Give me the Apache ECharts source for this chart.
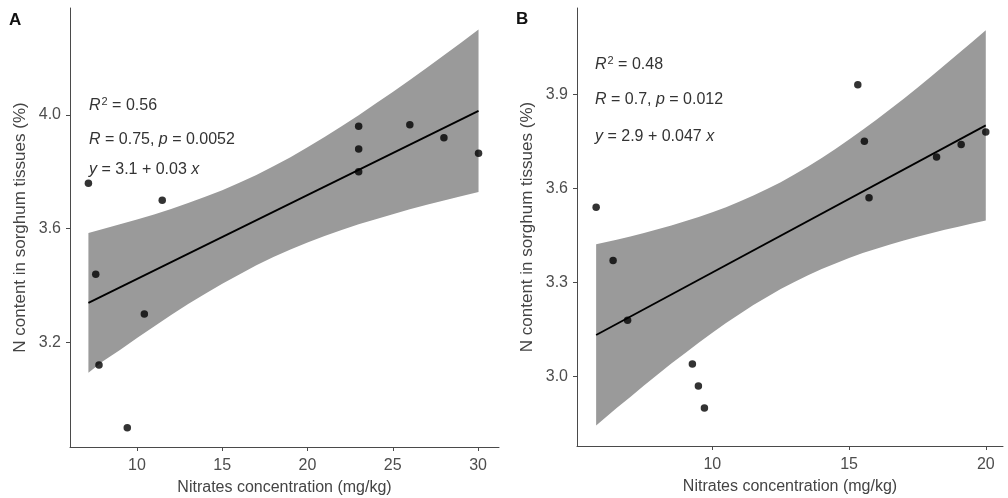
<!DOCTYPE html>
<html><head><meta charset="utf-8">
<script src="https://cdn.jsdelivr.net/npm/echarts@6/dist/echarts.min.js"></script>
<style>html,body{margin:0;padding:0;background:#fff}#c{width:1008px;height:498px}</style>
</head><body><div id="c"></div>
<script>
// ---------- Panel A data ----------
const aNitrate = [7.15, 7.58, 7.77, 9.43, 10.43, 11.48, 23.0, 23.0, 23.0, 26.0, 28.0, 30.03];
const aNcontent = [3.76, 3.44, 3.12, 2.90, 3.30, 3.70, 3.96, 3.88, 3.80, 3.965, 3.92, 3.865];
const aFitX = [7.15, 30.03];
const aFitY = [3.339, 4.014];
const aBandX = [7.15, 8, 9, 10, 11, 12, 13, 14, 15, 16, 17, 18, 19, 20, 21, 22, 23, 24, 25, 26, 27, 28, 29, 30.03];
const aBandUpper = [3.585, 3.599, 3.615, 3.632, 3.650, 3.669, 3.690, 3.712, 3.735, 3.761, 3.789, 3.819, 3.851, 3.886, 3.922, 3.960, 3.999, 4.040, 4.081, 4.123, 4.166, 4.210, 4.254, 4.300];
const aBandLower = [3.093, 3.134, 3.173, 3.215, 3.256, 3.296, 3.335, 3.371, 3.406, 3.439, 3.471, 3.500, 3.527, 3.551, 3.574, 3.595, 3.615, 3.633, 3.651, 3.668, 3.684, 3.699, 3.714, 3.729];
const aXTicks = [10, 15, 20, 25, 30];
const aYTicks = [3.2, 3.6, 4.0];

// ---------- Panel B data ----------
const bNitrate = [5.75, 6.37, 6.9, 9.27, 9.49, 9.71, 15.32, 15.56, 15.73, 18.2, 19.1, 20.0];
const bNcontent = [3.54, 3.37, 3.18, 3.04, 2.97, 2.90, 3.93, 3.75, 3.57, 3.70, 3.74, 3.78];
const bFitX = [5.75, 20.0];
const bFitY = [3.133, 3.801];
const bBandX = [5.75, 6.5, 7, 7.5, 8, 8.5, 9, 9.5, 10, 10.5, 11, 11.5, 12, 12.5, 13, 13.5, 14, 14.5, 15, 15.5, 16, 16.5, 17, 17.5, 18, 18.5, 19, 19.5, 20];
const bBandUpper = [3.422, 3.436, 3.447, 3.458, 3.470, 3.482, 3.495, 3.509, 3.524, 3.540, 3.558, 3.577, 3.598, 3.620, 3.644, 3.670, 3.697, 3.726, 3.756, 3.787, 3.819, 3.852, 3.886, 3.921, 3.957, 3.993, 4.030, 4.067, 4.104];
const bBandLower = [2.844, 2.900, 2.935, 2.972, 3.007, 3.042, 3.075, 3.108, 3.140, 3.171, 3.200, 3.228, 3.254, 3.279, 3.302, 3.323, 3.343, 3.361, 3.378, 3.394, 3.408, 3.421, 3.434, 3.446, 3.457, 3.468, 3.478, 3.488, 3.498];
const bXTicks = [10, 15, 20];
const bYTicks = [3.0, 3.3, 3.6, 3.9];

const xTitle = 'Nitrates concentration (mg/kg)';
const yTitle = 'N content in sorghum tissues (%)';

const FF = '"Liberation Sans", Arial, sans-serif';
const AXIS = '#4a4a4a';
const LABEL = '#4d4d4d';
const BAND = '#9a9a9a';

const zip = (xs, ys) => xs.map((x, i) => [x, ys[i]]);

function xAxisCfg(gi, min, max, ticks) {
  return {
    type: 'value', gridIndex: gi, min: min, max: max,
    name: xTitle, nameLocation: 'middle', nameGap: 33,
    nameTextStyle: {fontSize: 16, color: '#444', fontFamily: FF},
    axisLine: {show: true, onZero: false, lineStyle: {color: AXIS, width: 1}},
    axisTick: {show: true, length: 4, customValues: ticks, lineStyle: {color: AXIS}},
    axisLabel: {customValues: ticks, margin: 11, fontSize: 16, color: LABEL, fontFamily: FF,
      formatter: v => String(v)},
    splitLine: {show: false}
  };
}
function yAxisCfg(gi, min, max, ticks) {
  return {
    type: 'value', gridIndex: gi, min: min, max: max,
    name: yTitle, nameLocation: 'middle', nameGap: 41, nameRotate: 90,
    nameTextStyle: {fontSize: 17, color: '#444', fontFamily: FF},
    axisLine: {show: true, onZero: false, lineStyle: {color: AXIS, width: 1}},
    axisTick: {show: true, length: 4, customValues: ticks, lineStyle: {color: AXIS}},
    axisLabel: {customValues: ticks, margin: 9, fontSize: 16, color: LABEL, fontFamily: FF,
      formatter: v => Number(v).toFixed(1)},
    splitLine: {show: false}
  };
}
function bandSeries(gi, bx, lo, up) {
  return {
    type: 'custom', xAxisIndex: gi, yAxisIndex: gi, silent: true, z: 1,
    data: [[bx[0], lo[0]]],
    clip: false,
    renderItem: function (params, api) {
      const pts = [];
      for (let i = 0; i < bx.length; i++) pts.push(api.coord([bx[i], up[i]]));
      for (let i = bx.length - 1; i >= 0; i--) pts.push(api.coord([bx[i], lo[i]]));
      return {type: 'polygon', shape: {points: pts}, style: {fill: BAND, stroke: null}};
    }
  };
}
function panelSeries(gi, bx, lo, up, fx, fy, px, py) {
  return [
    bandSeries(gi, bx, lo, up),
    {type: 'line', xAxisIndex: gi, yAxisIndex: gi, data: zip(fx, fy), symbol: 'none',
     lineStyle: {color: '#000', width: 1.8}, z: 3},
    {type: 'scatter', xAxisIndex: gi, yAxisIndex: gi, data: zip(px, py), symbolSize: 7.5,
     itemStyle: {color: '#000'}, z: 4}
  ];
}

function txt(x, y, text) {
  return {type: 'text', x: x, y: y, z: 10, style: {
    text: text, fontSize: 16, fontFamily: FF, fill: '#333', verticalAlign: 'middle', align: 'left',
    rich: {
      i: {fontStyle: 'italic', fontSize: 16, fontFamily: FF, fill: '#333'},
      n: {fontSize: 16, fontFamily: FF, fill: '#333'},
      s: {fontSize: 11, fontFamily: FF, fill: '#333', verticalAlign: 'top', padding: [0, 0, 8, 1]}
    }
  }};
}

const chart = echarts.init(document.getElementById('c'), null, {renderer: 'canvas'});
chart.setOption({
  animation: false,
  backgroundColor: '#fff',
  grid: [
    {left: 70, right: 509, top: 8, bottom: 51, outerBoundsMode: 'none', containLabel: false},
    {left: 577, right: 5, top: 8, bottom: 52, outerBoundsMode: 'none', containLabel: false}
  ],
  xAxis: [xAxisCfg(0, 6.07, 31.23, aXTicks), xAxisCfg(1, 5.05, 20.63, bXTicks)],
  yAxis: [yAxisCfg(0, 2.832, 4.376, aYTicks), yAxisCfg(1, 2.779, 4.175, bYTicks)],
  series: [].concat(
    panelSeries(0, aBandX, aBandLower, aBandUpper, aFitX, aFitY, aNitrate, aNcontent),
    panelSeries(1, bBandX, bBandLower, bBandUpper, bFitX, bFitY, bNitrate, bNcontent)
  ),
  graphic: [
    {type: 'text', x: 9, y: 20, style: {text: 'A', fontSize: 17, fontWeight: 'bold', fontFamily: FF, fill: '#111', verticalAlign: 'middle'}},
    {type: 'text', x: 516, y: 19, style: {text: 'B', fontSize: 17, fontWeight: 'bold', fontFamily: FF, fill: '#111', verticalAlign: 'middle'}},
    txt(89, 106, '{i|R}{s|2}{n| = 0.56}'),
    txt(89, 140, '{i|R}{n| = 0.75, }{i|p}{n| = 0.0052}'),
    txt(89, 170, '{i|y}{n| = 3.1 + 0.03 }{i|x}'),
    txt(595, 65, '{i|R}{s|2}{n| = 0.48}'),
    txt(595, 100, '{i|R}{n| = 0.7, }{i|p}{n| = 0.012}'),
    txt(595, 137, '{i|y}{n| = 2.9 + 0.047 }{i|x}')
  ]
});
</script></body></html>
